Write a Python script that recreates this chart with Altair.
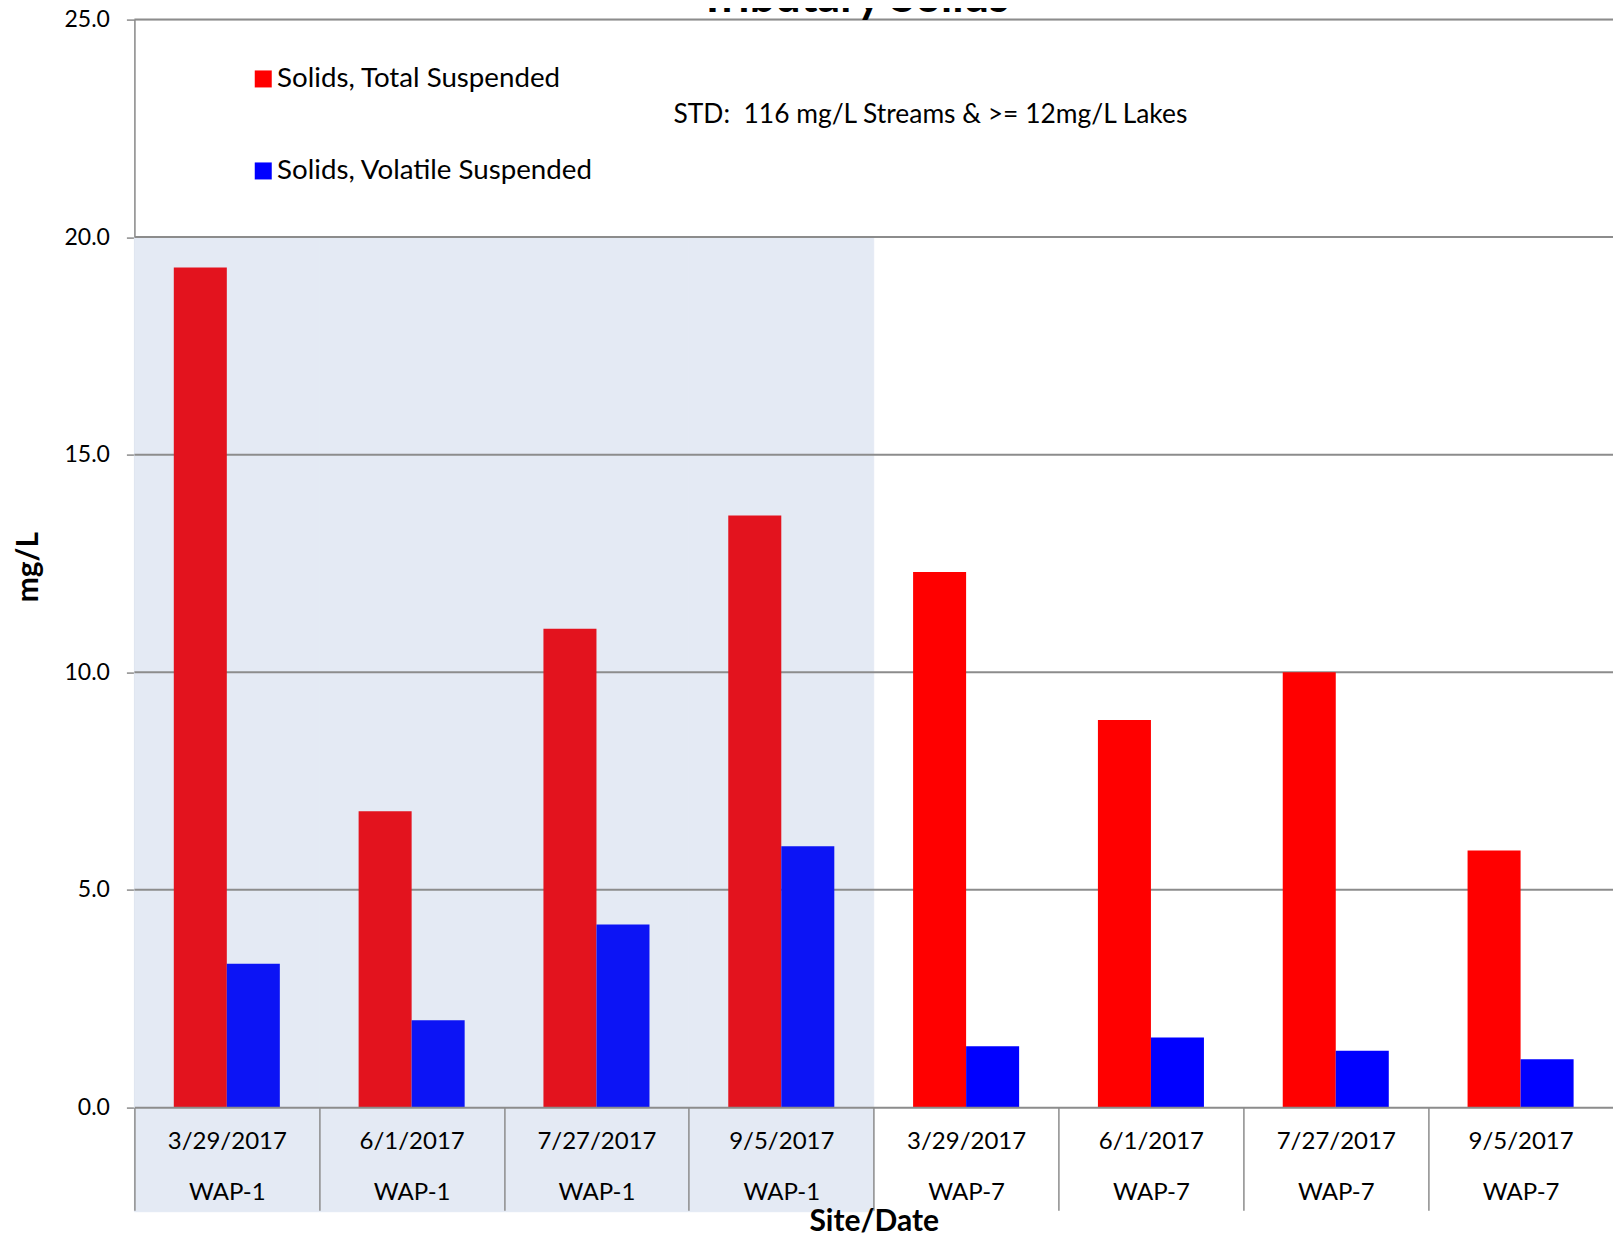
import altair as alt
import pandas as pd

dates = ["3/29/2017", "6/1/2017", "7/27/2017", "9/5/2017",
         "3/29/2017", "6/1/2017", "7/27/2017", "9/5/2017"]
sites = ["WAP-1", "WAP-1", "WAP-1", "WAP-1", "WAP-7", "WAP-7", "WAP-7", "WAP-7"]
tss = [19.3, 6.8, 11.0, 13.6, 12.3, 8.9, 10.0, 5.9]
vss = [3.3, 2.0, 4.2, 6.0, 1.4, 1.6, 1.3, 1.1]
series = ["Solids, Total Suspended", "Solids, Volatile Suspended"]
shaded_site = "WAP-1"
shade_top = 20
grid_values = [5, 10, 15, 20, 25]
y_ticks = [0, 5, 10, 15, 20, 25]
std_text = "STD:\u00a0 116 mg/L Streams & >= 12mg/L Lakes"
chart_title = "Tributary Solids"

cats = [f"{d}|{s}" for d, s in zip(dates, sites)]
rows = []
for c, s, t, v in zip(cats, sites, tss, vss):
    rows.append({"cat": c, "site": s, "series": series[0], "key": f"TSS {s}", "value": t})
    rows.append({"cat": c, "site": s, "series": series[1], "key": f"VSS {s}", "value": v})
df = pd.DataFrame(rows)
shade_cats = [c for c, s in zip(cats, sites) if s == shaded_site]
shade_df = pd.DataFrame({"cat": shade_cats, "value": [shade_top] * len(shade_cats)})
grid_df = pd.DataFrame({"value": grid_values})

LEFT = 126.4
W = 1605 - LEFT
H = 1087.6
TOP = 11.6
BOTTOM = 129.8
GRAY = "#8C8C8C"
FONT = "Lato"
SHADE = "#E4EAF4"

xscale = alt.Scale(domain=cats, paddingInner=0, paddingOuter=0, round=False)
yscale = alt.Scale(domain=[0, 25], nice=False)

xaxis = alt.Axis(labelExpr="split(datum.label, '|')", labelLineHeight=51,
                 labelBaseline="top", labelPadding=-81, labelFontSize=24,
                 labelFont=FONT, labelColor="#000000", labelAngle=0,
                 labelOverlap=False, labelBound=False, labelFlush=False,
                 tickBand="extent", tickSize=103, tickColor=GRAY, tickWidth=1.5,
                 domainColor=GRAY, domainWidth=2, title="Site/Date",
                 titleFont=FONT, titleFontSize=30, titleFontWeight="bold",
                 titleColor="#000000", titleY=123.5, titleBaseline="alphabetic",
                 titleAnchor="middle")
yaxis = alt.Axis(values=y_ticks, format=".1f", grid=False, tickSize=8,
                 tickColor=GRAY, tickWidth=1.5, domainColor=GRAY, domainWidth=1.5,
                 labelFontSize=23, labelFont=FONT, labelColor="#000000",
                 labelPadding=17, title="mg/L", titleFont=FONT, titleFontSize=30,
                 titleFontWeight="bold", titleColor="#000000", titleX=-106,
                 titleY=547, titleBaseline="middle", titleAngle=270)

shade = alt.Chart(shade_df).mark_rect(color=SHADE, stroke=SHADE, strokeWidth=1).encode(
    x=alt.X("cat:N", scale=xscale, sort=None, axis=xaxis, title="Site/Date"),
    y=alt.Y("value:Q", scale=yscale, axis=yaxis, title="mg/L"),
    y2=alt.value(H + 104.5),
)

grid = alt.Chart(grid_df).mark_rule(color=GRAY, strokeWidth=2).encode(
    y=alt.Y("value:Q", scale=yscale, axis=yaxis, title="mg/L")
)

bars = alt.Chart(df).mark_bar().encode(
    x=alt.X("cat:N", scale=xscale, sort=None, axis=xaxis, title="Site/Date"),
    xOffset=alt.XOffset("series:N", scale=alt.Scale(domain=series, paddingInner=0,
                                                    paddingOuter=0.743, round=False)),
    y=alt.Y("value:Q", scale=yscale, axis=yaxis, title="mg/L"),
    color=alt.Color("key:N",
                    scale=alt.Scale(domain=["TSS WAP-1", "VSS WAP-1", "TSS WAP-7", "VSS WAP-7"],
                                    range=["#E3131E", "#0C14F5", "#FF0000", "#0000FF"]),
                    legend=alt.Legend(orient="none", legendX=115, legendY=45.5,
                                      direction="vertical", symbolType="square",
                                      symbolSize=289, symbolStrokeWidth=0,
                                      labelFontSize=27.7, labelFont=FONT, labelColor="#000000",
                                      labelOffset=0, rowPadding=63, padding=0,
                                      labelLimit=600, title=None,
                                      values=["TSS WAP-7", "VSS WAP-7"],
                                      labelExpr="datum.label == 'TSS WAP-7' ? 'Solids, Total Suspended' : 'Solids, Volatile Suspended'")),
)

std = alt.Chart(pd.DataFrame({"t": [std_text]})).mark_text(
    font=FONT, fontSize=26.4, color="#000000", align="center", baseline="middle"
).encode(text="t:N", x=alt.value(796), y=alt.value(95))

title = alt.Chart(pd.DataFrame({"t": [chart_title]})).mark_text(
    font=FONT, fontSize=45, fontWeight="bold", color="#000000", align="center",
    baseline="alphabetic"
).encode(text="t:N", x=alt.value(719.6), y=alt.value(-7.6))

chart = alt.layer(shade, grid, bars, std, title).properties(
    width=W, height=H,
    autosize=alt.AutoSizeParams(type="none"),
    padding={"left": LEFT, "top": TOP, "right": 0, "bottom": BOTTOM},
    background="white",
).configure_view(stroke=None).configure(font=FONT)

chart.save("out.html", embed_options={"renderer": "svg", "actions": False})
